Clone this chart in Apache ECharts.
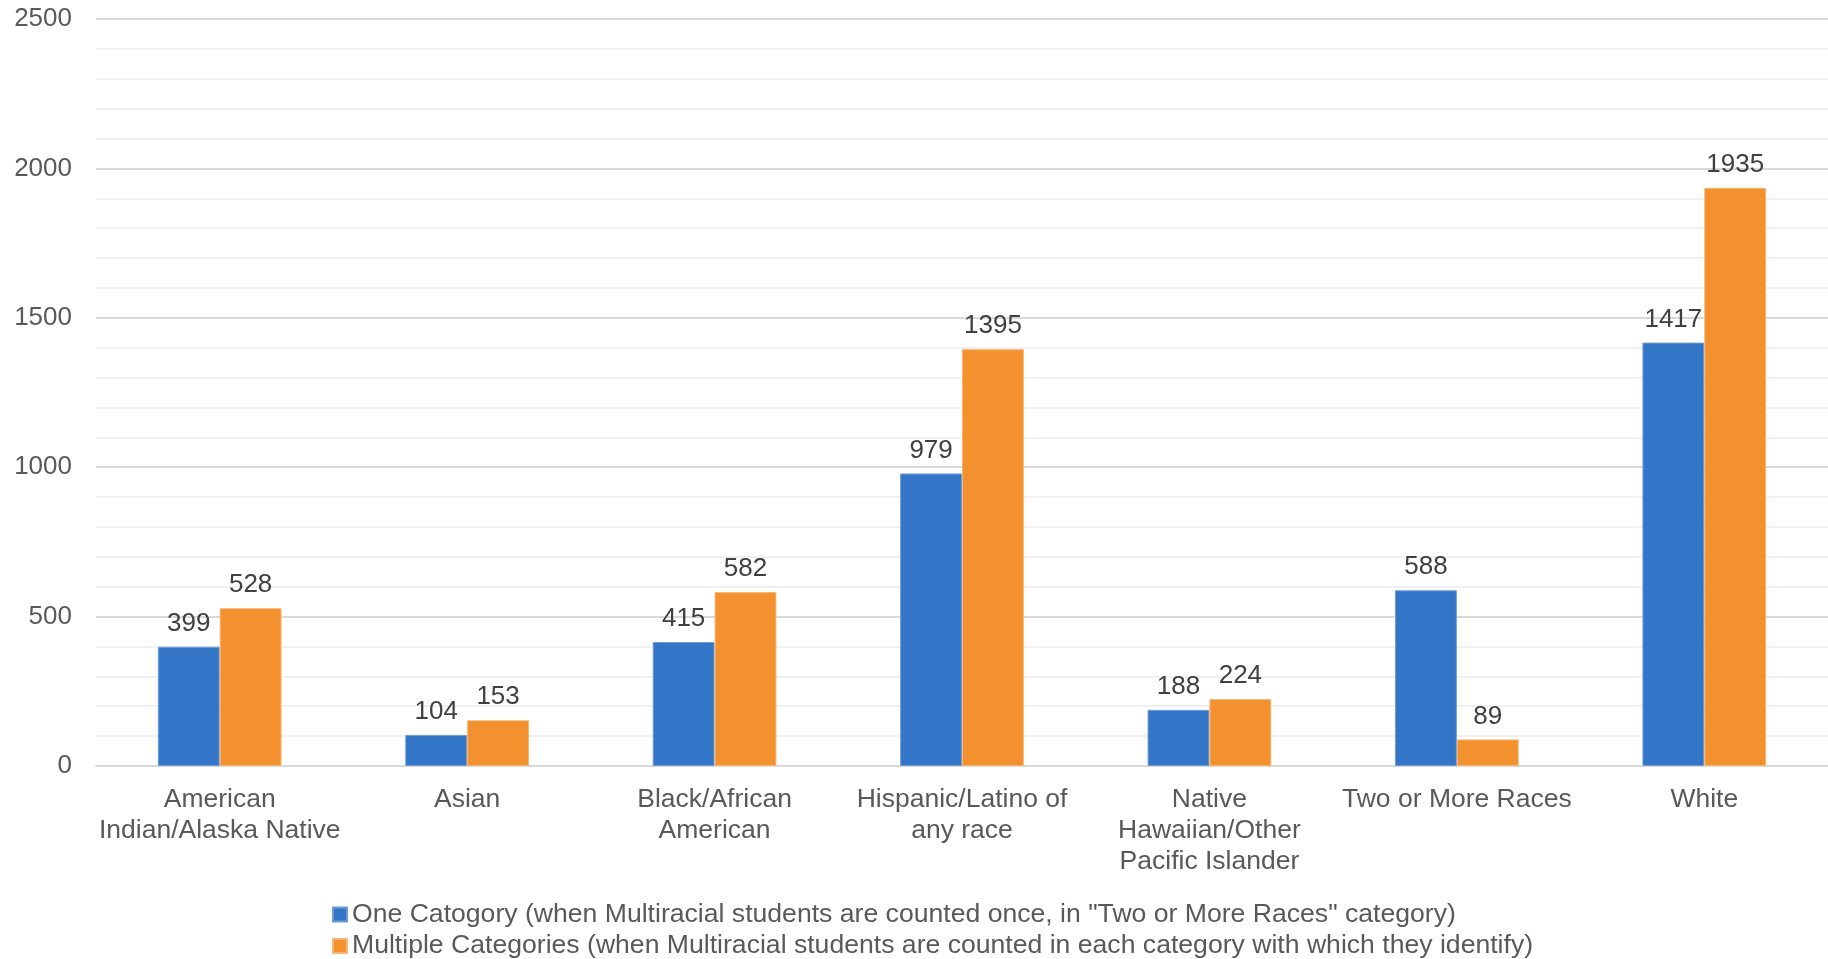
<!DOCTYPE html>
<html>
<head>
<meta charset="utf-8">
<script src="https://cdn.jsdelivr.net/npm/echarts@6/dist/echarts.min.js"></script>
<style>
  html, body { margin: 0; padding: 0; background: #ffffff; }
  #chart { width: 1828px; height: 959px; }
</style>
</head>
<body>
<div id="chart"></div>
<script>
// Student counts by race/ethnicity, two counting methods
const categories = [
  'American\nIndian/Alaska Native',
  'Asian',
  'Black/African\nAmerican',
  'Hispanic/Latino of\nany race',
  'Native\nHawaiian/Other\nPacific Islander',
  'Two or More Races',
  'White'
];
const oneCategory = [399, 104, 415, 979, 188, 588, 1417];
const multipleCategories = [528, 153, 582, 1395, 224, 89, 1935];
const seriesNames = [
  'One Catogory (when Multiracial students are counted once, in "Two or More Races" category)',
  'Multiple Categories (when Multiracial students are counted in each category with which they identify)'
];
const yTicks = [0, 500, 1000, 1500, 2000, 2500];

const FONT = '"Liberation Sans", Arial, sans-serif';
const chart = echarts.init(document.getElementById('chart'), null, { renderer: 'canvas' });

const labelStyle = {
  show: true,
  position: 'top',
  distance: 10,
  color: '#404040',
  fontSize: 26,
  fontFamily: FONT
};

// one legend row per series, stacked under the axis labels
const legendRow = (name, top) => ({
  left: 332,
  top: top,
  itemWidth: 14,
  itemHeight: 14,
  icon: 'rect',
  padding: 0,
  textStyle: { color: '#595959', fontSize: 26.6, fontFamily: FONT, padding: [0, 0, 0, 0] },
  data: [name]
});

chart.setOption({
  animation: false,
  backgroundColor: '#ffffff',
  grid: { left: 96, right: 0, top: 19, bottom: 193, containLabel: false },
  legend: [
    legendRow(seriesNames[0], 901),
    legendRow(seriesNames[1], 932.5)
  ],
  xAxis: {
    type: 'category',
    data: categories,
    axisTick: { show: false },
    axisLine: { show: true, lineStyle: { color: '#d9d9d9', width: 2 } },
    axisLabel: {
      color: '#595959',
      fontSize: 26.5,
      fontFamily: FONT,
      lineHeight: 31,
      margin: 18,
      interval: 0
    }
  },
  yAxis: {
    type: 'value',
    min: yTicks[0],
    max: yTicks[yTicks.length - 1],
    interval: 500,
    axisLine: { show: false },
    axisTick: { show: false },
    axisLabel: {
      color: '#595959',
      fontSize: 26,
      fontFamily: FONT,
      margin: 24,
      padding: [5, 0, 0, 0],
      formatter: (v) => String(v)
    },
    splitLine: { show: true, lineStyle: { color: '#d9d9d9', width: 2 } },
    minorTick: { show: false, splitNumber: 5 },
    minorSplitLine: { show: true, lineStyle: { color: '#f0f0f0', width: 2 } }
  },
  series: [
    {
      name: seriesNames[0],
      type: 'bar',
      data: oneCategory,
      barGap: '0%',
      barCategoryGap: '50%',
      itemStyle: { color: '#3375c6', borderColor: '#6f9bd6', borderWidth: 1 },
      label: labelStyle
    },
    {
      name: seriesNames[1],
      type: 'bar',
      data: multipleCategories,
      barGap: '0%',
      barCategoryGap: '50%',
      itemStyle: { color: '#f2912e', borderColor: '#f7b574', borderWidth: 1 },
      label: labelStyle
    }
  ]
});
</script>
</body>
</html>
